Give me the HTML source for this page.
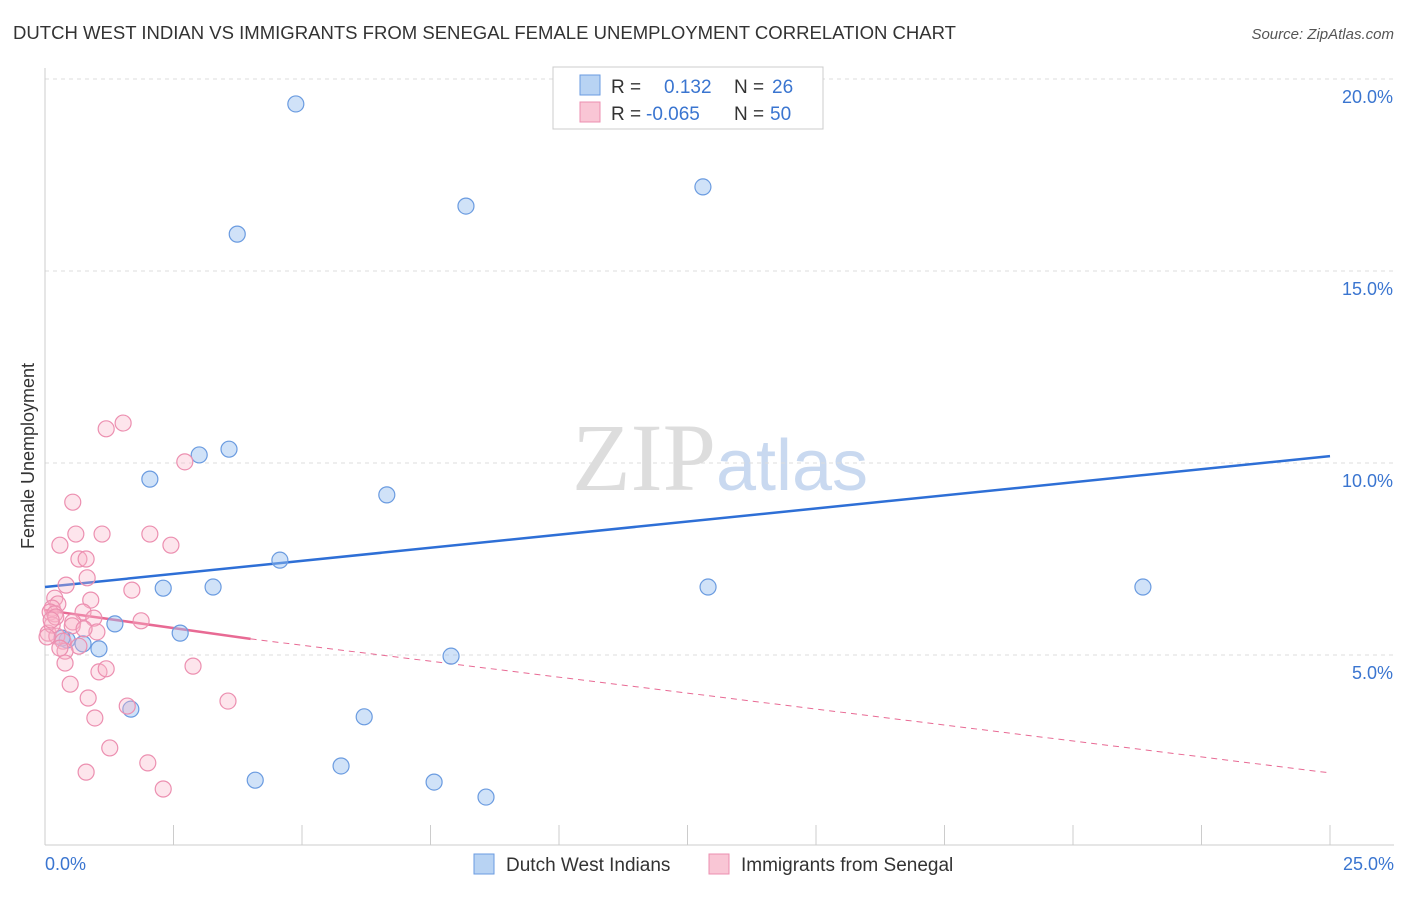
<!DOCTYPE html>
<html><head><meta charset="utf-8"><style>
body{margin:0;background:#fff;font-family:"Liberation Sans",sans-serif;}
</style></head><body>
<svg id="chart" width="1406" height="892" xmlns="http://www.w3.org/2000/svg" font-family="Liberation Sans, sans-serif">
<text x="13" y="39" font-size="18" fill="#333" textLength="943" lengthAdjust="spacingAndGlyphs">DUTCH WEST INDIAN VS IMMIGRANTS FROM SENEGAL FEMALE UNEMPLOYMENT CORRELATION CHART</text>
<text x="1394" y="39" font-size="15" fill="#555" text-anchor="end" font-style="italic">Source: ZipAtlas.com</text>
<text x="720" y="490" font-size="96" text-anchor="middle"><tspan fill="#ddd" font-family="Liberation Serif, serif">ZIP</tspan><tspan fill="#c9d9f0" font-size="72">atlas</tspan></text>
<text transform="translate(34,456) rotate(-90)" font-size="18" fill="#333" text-anchor="middle">Female Unemployment</text>
<g id="grid"></g><g id="axes"></g><g id="lines"></g><g id="pts"></g>
<g>
<rect x="553" y="67" width="270" height="62" fill="#fff" stroke="#ccc"/>
<rect x="580" y="75" width="20" height="20" fill="#b8d3f3" stroke="#6a9be0"/>
<rect x="580" y="102" width="20" height="20" fill="#f9c6d5" stroke="#ec8fb0"/>
<text x="611" y="93" font-size="19" fill="#333">R =</text><text x="664" y="93" font-size="19" fill="#3a75d0">0.132</text>
<text x="734" y="93" font-size="19" fill="#333">N =</text><text x="772" y="93" font-size="19" fill="#3a75d0">26</text>
<text x="611" y="120" font-size="19" fill="#333">R =</text><text x="646" y="120" font-size="19" fill="#3a75d0">-0.065</text>
<text x="734" y="120" font-size="19" fill="#333">N =</text><text x="770" y="120" font-size="19" fill="#3a75d0">50</text>
</g>
<g>
<rect x="474" y="854" width="20" height="20" fill="#b8d3f3" stroke="#6a9be0"/>
<text x="506" y="871" font-size="19" fill="#333">Dutch West Indians</text>
<rect x="709" y="854" width="20" height="20" fill="#f9c6d5" stroke="#ec8fb0"/>
<text x="741" y="871" font-size="19" fill="#333">Immigrants from Senegal</text>
</g>
</svg>
<script>
const blueX=[4.88,3.74,8.19,12.80,2.04,3.00,3.58,6.65,4.57,2.30,3.27,12.90,21.36,1.36,2.63,1.05,0.43,0.74,7.90,1.67,6.21,4.09,5.76,7.57,8.58,0.33];
const blueY=[19.35,15.96,16.69,17.19,9.58,10.21,10.36,9.17,7.47,6.74,6.77,6.77,6.77,5.81,5.57,5.16,5.39,5.29,4.97,3.59,3.39,1.74,2.11,1.69,1.30,5.44];
const pinkX=[1.52,1.19,2.72,0.54,0.29,0.60,1.11,2.04,2.45,0.66,0.80,0.82,0.41,1.69,0.89,0.19,0.25,0.14,0.10,0.19,0.74,0.95,0.54,1.87,1.01,0.06,0.23,0.35,0.66,0.39,0.39,2.88,1.05,1.19,0.49,0.84,3.56,1.60,0.97,1.26,2.00,0.80,2.30,0.14,0.21,0.53,0.29,0.04,0.12,0.76];
const pinkY=[11.04,10.89,10.03,8.98,7.86,8.15,8.15,8.15,7.86,7.50,7.50,7.01,6.82,6.69,6.43,6.48,6.33,6.22,6.12,6.07,6.12,5.96,5.86,5.89,5.60,5.57,5.49,5.36,5.23,5.10,4.79,4.71,4.56,4.64,4.24,3.88,3.80,3.67,3.36,2.58,2.19,1.95,1.51,5.78,5.99,5.76,5.18,5.47,5.91,5.68];
const yTicks=[5,10,15,20];
const xTickVals=[0,2.5,5,7.5,10,12.5,15,17.5,20,22.5,25];
const blueTrend=[6.77,10.18];
const pinkTrend=[6.17,5.42,1.93];
const pinkSolidEnd=4;
const X=v=>45+v*51.4, Y=v=>847-v*38.4;
const NS="http://www.w3.org/2000/svg";
function mk(t,a,p){const e=document.createElementNS(NS,t);for(const k in a)e.setAttribute(k,a[k]);document.getElementById(p).appendChild(e);return e;}
yTicks.forEach(v=>{
 const l=mk('line',{x1:45,x2:1394,y1:Y(v),y2:Y(v),stroke:'#ddd','stroke-dasharray':'4,4'},'grid');
 
 
 const t=mk('text',{x:1393,y:Y(v)+24,'font-size':18,fill:'#3a75d0','text-anchor':'end'},'axes');t.textContent=v.toFixed(1)+'%';
 
 
});
mk('line',{x1:45,x2:45,y1:68,y2:845,stroke:'#ccc'},'axes');
const xa=mk('line',{x1:45,x2:1394,y1:845,y2:845,stroke:'#ccc'},'axes');


xTickVals.forEach(v=>{const t=mk('line',{x1:X(v),x2:X(v),y1:825,y2:845,stroke:'#ccc'},'axes');
 
 });
[[0,'start',45,'0.0%'],[25,'end',1394,'25.0%']].forEach(a=>{const t=mk('text',{x:a[2],y:870,'font-size':18,fill:'#3a75d0','text-anchor':a[1]},'axes');t.textContent=a[3];
 
 });
blueX.forEach((x,i)=>{const c=mk('circle',{cx:X(x),cy:Y(blueY[i]),r:8,fill:'rgba(150,190,240,0.45)',stroke:'#6a9be0','stroke-width':1.2},'pts');
 
 });
pinkX.forEach((x,i)=>{const c=mk('circle',{cx:X(x),cy:Y(pinkY[i]),r:8,fill:'rgba(248,180,200,0.35)',stroke:'#ec8fb0','stroke-width':1.2},'pts');
 
 });
const bl=mk('line',{x1:X(0),y1:Y(blueTrend[0]),x2:X(25),y2:Y(blueTrend[1]),stroke:'#2e6fd6','stroke-width':2.5},'lines');


const pl=mk('line',{x1:X(0),y1:Y(pinkTrend[0]),x2:X(pinkSolidEnd),y2:Y(pinkTrend[1]),stroke:'#e86a94','stroke-width':2.5},'lines');


const pd=mk('line',{x1:X(pinkSolidEnd),y1:Y(pinkTrend[1]),x2:X(25),y2:Y(pinkTrend[2]),stroke:'#e86a94','stroke-width':1,'stroke-dasharray':'6,5'},'lines');


</script>
</body></html>
